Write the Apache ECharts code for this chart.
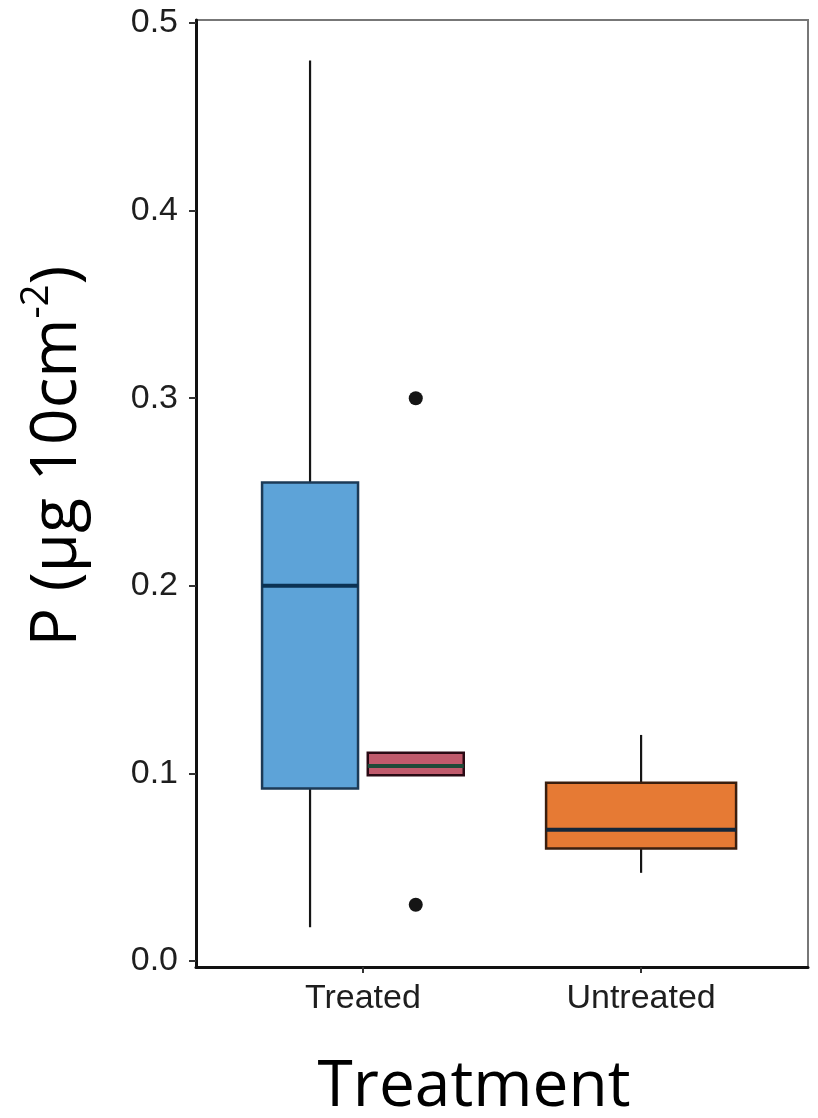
<!DOCTYPE html>
<html><head><meta charset="utf-8">
<script src="https://cdn.jsdelivr.net/npm/echarts@6/dist/echarts.min.js"></script>
<style>html,body{margin:0;padding:0;background:#fff}#c{width:818px;height:1118px}</style>
</head><body><div id="c"></div>
<script>
// ---- data ----
const categories = ['Treated', 'Untreated'];
const yTicks = [0, 0.1, 0.2, 0.3, 0.4, 0.5];
// box stats: [min, Q1, median, Q3, max]
const treatedGroupA = [0.018, 0.092, 0.200, 0.255, 0.480];
const treatedGroupB = [0.099, 0.099, 0.104, 0.111, 0.111];
const untreatedGroup = [0.047, 0.060, 0.070, 0.095, 0.1205];
const treatedGroupBOutliers = [0.300, 0.030];

// ---- presentation (dodge offsets, widths, colours) ----
const boxes = [
  { cat: 0, dodge: -0.19, stats: treatedGroupA, width: 0.345, fill: '#5DA3D8', stroke: '#1C3A56', median: '#0B3254' },
  { cat: 0, dodge: 0.19, stats: treatedGroupB, width: 0.345, fill: '#C05A6C', stroke: '#2A0A14', median: '#1D4A38' },
  { cat: 1, dodge: 0, stats: untreatedGroup, width: 0.683, fill: '#E67A34', stroke: '#3A1E0E', median: '#13263A' }
];
const boxData = boxes.map(b => [b.cat + 1 + b.dodge].concat(b.stats));
const outlierData = treatedGroupBOutliers.map(v => [boxes[1].cat + 1 + boxes[1].dodge, v]);

const chart = echarts.init(document.getElementById('c'), null, { renderer: 'canvas' });
const labelFont = { fontFamily: 'Liberation Sans, Arial, sans-serif', fontSize: 34, color: '#1e1e1e' };

chart.setOption({
  animation: false,
  backgroundColor: '#fff',
  grid: { left: 196, right: 10, top: 20, bottom: 151, show: true, borderColor: '#777', borderWidth: 2, backgroundColor: 'transparent' },
  xAxis: {
    type: 'value', min: 0.4, max: 2.6,
    splitLine: { show: false },
    axisLine: { show: true, onZero: false, lineStyle: { color: '#111', width: 3 } },
    axisTick: { show: true, length: 6, customValues: [1, 2], lineStyle: { color: '#333', width: 2 } },
    axisLabel: Object.assign({ margin: 15, customValues: [1, 2], formatter: v => categories[Math.round(v) - 1] || '' }, labelFont)
  },
  yAxis: {
    type: 'value', min: -0.0032, max: 0.5016,
    splitLine: { show: false },
    axisLine: { show: true, onZero: false, lineStyle: { color: '#111', width: 3 } },
    axisTick: { show: true, length: 7, customValues: yTicks, lineStyle: { color: '#333', width: 2 } },
    axisLabel: Object.assign({ margin: 18, customValues: yTicks, formatter: v => v.toFixed(1) }, labelFont)
  },
  series: [
    {
      type: 'custom',
      data: boxData,
      encode: { x: 0, y: [1, 2, 3, 4, 5] },
      renderItem: function (params, api) {
        const b = boxes[params.dataIndex];
        const x = api.value(0);
        const pMin = api.coord([x, api.value(1)]);
        const pQ1 = api.coord([x, api.value(2)]);
        const pMed = api.coord([x, api.value(3)]);
        const pQ3 = api.coord([x, api.value(4)]);
        const pMax = api.coord([x, api.value(5)]);
        const half = api.size([b.width, 0])[0] / 2;
        const cx = pMed[0];
        return {
          type: 'group',
          children: [
            { type: 'line', shape: { x1: cx, y1: pQ3[1], x2: cx, y2: pMax[1] }, style: { stroke: '#151515', lineWidth: 2.2 } },
            { type: 'line', shape: { x1: cx, y1: pQ1[1], x2: cx, y2: pMin[1] }, style: { stroke: '#151515', lineWidth: 2.2 } },
            { type: 'rect', shape: { x: cx - half, y: pQ3[1], width: half * 2, height: pQ1[1] - pQ3[1] }, style: { fill: b.fill, stroke: b.stroke, lineWidth: 2.5 } },
            { type: 'line', shape: { x1: cx - half, y1: pMed[1], x2: cx + half, y2: pMed[1] }, style: { stroke: b.median, lineWidth: 4 } }
          ]
        };
      },
      z: 2
    },
    {
      type: 'scatter',
      data: outlierData,
      symbol: 'circle',
      symbolSize: 14,
      itemStyle: { color: '#151515', opacity: 1 },
      z: 3
    }
  ],
  graphic: [
    {
      type: 'text', x: 474, y: 1088,
      style: { text: 'Treatment', fontFamily: 'Open Sans', fontSize: 64, fill: '#000', textAlign: 'center', textVerticalAlign: 'middle' }
    },
    {
      type: 'text', x: 58, y: 456, rotation: Math.PI / 2,
      style: {
        text: '{a|P (µg 10cm}{s|-2}{a|)}',
        textAlign: 'center', textVerticalAlign: 'middle',
        fill: '#000',
        rich: {
          a: { fontFamily: 'Open Sans', fontSize: 64, lineHeight: 80, fill: '#000' },
          s: { fontFamily: 'Open Sans', fontSize: 38, lineHeight: 48, verticalAlign: 'top', fill: '#000' }
        }
      }
    }
  ]
});
</script>
</body></html>
